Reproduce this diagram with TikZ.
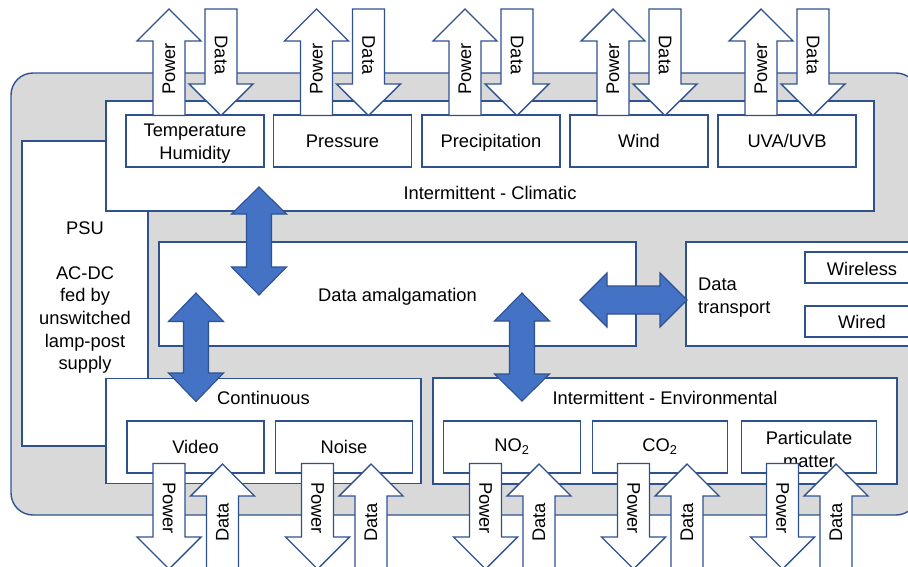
\documentclass[tikz,border=0pt]{standalone}
\usepackage{fontspec}
\setmainfont{Liberation Sans}
\definecolor{lineblue}{HTML}{2F528F}
\definecolor{fillblue}{HTML}{4472C4}
\definecolor{bggray}{HTML}{D9D9D9}
% up-pointing white block arrow: x, tip y, head-base y, bottom y, label y, text, name
\newcommand{\UpBlk}[7]{%
  \draw[blk] ({#1},{#2}) -- ({#1+32},{#3}) -- ({#1+16},{#3}) -- ({#1+16},{#4}) -- ({#1-16},{#4}) -- ({#1-16},{#3}) -- ({#1-32},{#3}) -- cycle;
  \node[lbl,rotate=90] (#7) at ({#1},{#5}) {#6};}
% down-pointing white block arrow: x, top y, head-base y, tip y, label y, text, name
\newcommand{\DownBlk}[7]{%
  \draw[blk] ({#1-16},{#2}) -- ({#1+16},{#2}) -- ({#1+16},{#3}) -- ({#1+32},{#3}) -- ({#1},{#4}) -- ({#1-32},{#3}) -- ({#1-16},{#3}) -- cycle;
  \node[lbl,rotate=-90] (#7) at ({#1},{#5}) {#6};}
% vertical blue double arrow: x, top tip, top head base, bottom head base, bottom tip
\newcommand{\VDbl}[5]{%
  \draw[dblk] ({#1},{#2}) -- ({#1+27.5},{#3}) -- ({#1+12.5},{#3}) -- ({#1+12.5},{#4}) -- ({#1+27.5},{#4}) -- ({#1},{#5}) -- ({#1-27.5},{#4}) -- ({#1-12.5},{#4}) -- ({#1-12.5},{#3}) -- ({#1-27.5},{#3}) -- cycle;}
\begin{document}
\begin{tikzpicture}[x=1pt,y=-1pt,font=\fontsize{18.3}{22.6}\selectfont,
  box/.style={draw=lineblue,fill=white,line width=1.4pt,inner sep=0pt,align=center},
  blk/.style={draw=lineblue,fill=white,line width=1.4pt,line join=miter},
  dblk/.style={draw=lineblue,fill=fillblue,line width=1.1pt,line join=miter},
  lbl/.style={inner sep=0pt,align=center}]
\useasboundingbox (0,0) rectangle (908,566);
\clip (0,0) rectangle (908,566);
% outer housing
\node[box,fill=bggray,rounded corners=22pt,minimum width=907pt,minimum height=442pt] (outer) at (464.5,294) {};
% PSU
\node[box,minimum width=126pt,minimum height=305pt] (psu) at (85,293.5) {};
\node[lbl] (psutext) at (85,297.5) {PSU\\[22.6pt]AC-DC\\fed by\\unswitched\\lamp-post\\supply};
% climatic group
\node[box,minimum width=768pt,minimum height=110pt] (climatic) at (490,156) {};
\node[lbl] (climlbl) at (490,193) {Intermittent - Climatic};
\node[box,minimum width=138pt,minimum height=52pt] (temp) at (195,141) {};
\node[lbl] (templbl) at (195,143.5) {Temperature\\Humidity};
\node[box,minimum width=138pt,minimum height=52pt] (press) at (342.5,141) {Pressure};
\node[box,minimum width=138pt,minimum height=52pt] (precip) at (491,141) {};
\node[lbl] (preciplbl) at (491,142.5) {Precipitation};
\node[box,minimum width=138pt,minimum height=52pt] (wind) at (639,141) {Wind};
\node[box,minimum width=138pt,minimum height=52pt] (uv) at (787,141) {UVA/UVB};
% data amalgamation and transport
\node[box,minimum width=477pt,minimum height=104pt] (amalg) at (397.5,294) {};
\node[lbl] (amalglbl) at (397.5,297) {Data amalgamation};
\node[box,minimum width=249pt,minimum height=104pt] (transport) at (810.5,294) {};
\node[lbl,anchor=west,align=left] (translbl) at (698,297.5) {Data\\transport};
\node[box,minimum width=114pt,minimum height=31pt] (wireless) at (862,267.5) {};
\node[lbl] (wirelesslbl) at (862,268.5) {Wireless};
\node[box,minimum width=114pt,minimum height=31pt] (wired) at (862,321.5) {Wired};
% continuous group
\node[box,minimum width=315pt,minimum height=105.5pt] (cont) at (263.5,431) {};
\node[lbl] (contlbl) at (263.5,397.5) {Continuous};
\node[box,minimum width=137pt,minimum height=52pt] (video) at (195.5,447) {Video};
\node[box,minimum width=137pt,minimum height=52pt] (noise) at (344,447) {Noise};
% environmental group
\node[box,minimum width=464pt,minimum height=106pt] (env) at (665,431) {};
\node[lbl] (envlbl) at (665,397.5) {Intermittent - Environmental};
\node[box,minimum width=137pt,minimum height=52pt] (no2) at (512,447) {NO\textsubscript{2}};
\node[box,minimum width=135pt,minimum height=52pt] (co2) at (660,447) {CO\textsubscript{2}};
\node[box,minimum width=135pt,minimum height=52pt] (pm) at (809,447) {};
\node[lbl] (pmlbl) at (809,449.5) {Particulate\\matter};
% blue double arrows
\VDbl{259}{187}{214}{267}{295}
\VDbl{196}{293}{321.5}{373}{401.5}
\VDbl{522}{293}{321}{374}{401}
\draw[dblk] (580,300) -- (607,273) -- (607,286) -- (660,286) -- (660,273) -- (687,300) -- (660,327) -- (660,314) -- (607,314) -- (607,327) -- cycle;
% top power / data arrows
\foreach \c [count=\i] in {195,342.5,491,639,787}{
  \UpBlk{\c-26}{9}{41}{115.5}{69}{Power}{tp\i}
  \DownBlk{\c+26}{9}{84}{115.5}{55}{Data}{td\i}
}
% bottom power / data arrows
\foreach \c [count=\i] in {195.5,344,512,660,809}{
  \DownBlk{\c-26.5}{463.5}{537}{569}{508}{Power}{bp\i}
  \UpBlk{\c+27}{464}{496}{590}{522.5}{Data}{bd\i}
}
\end{tikzpicture}
\end{document}
